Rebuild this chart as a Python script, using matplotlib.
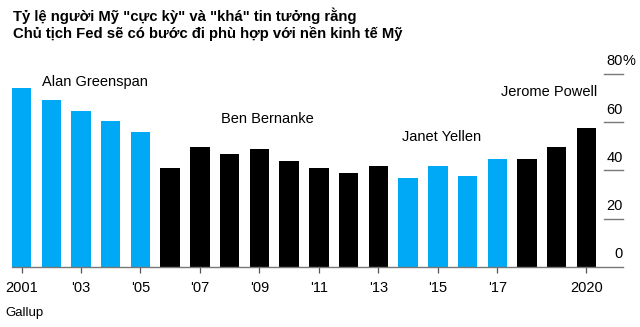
import matplotlib
matplotlib.use("Agg")
from matplotlib import pyplot as plt

plt.rcParams['font.family'] = ['Liberation Sans', 'DejaVu Sans']

# Data
years = list(range(2001, 2021))
values = [74.0, 69.0, 64.7, 60.6, 55.8, 40.8, 49.8, 46.9, 49.0, 44.0,
          40.8, 39.0, 41.9, 36.9, 41.9, 37.8, 44.8, 44.8, 49.8, 57.7]
chairs = ['Greenspan'] * 5 + ['Bernanke'] * 8 + ['Yellen'] * 4 + ['Powell'] * 3
tick_years = [2001, 2003, 2005, 2007, 2009, 2011, 2013, 2015, 2017, 2020]
tick_labels = ['2001', "'03", "'05", "'07", "'09", "'11", "'13", "'15", "'17", '2020']
y_ticks = [0, 20, 40, 60, 80]

BLUE = '#00a9f5'
chair_colors = {'Greenspan': BLUE, 'Bernanke': 'black', 'Yellen': BLUE, 'Powell': 'black'}

fig = plt.figure(figsize=(6.4, 3.27), dpi=100)
ax = fig.add_axes([0.0183, 0.1844, 0.973 - 0.0183, 0.8477 - 0.1844])

x = [y - 2001 for y in years]
ax.bar(x, values, width=0.655, color=[chair_colors[c] for c in chairs])

ax.set_xlim(-0.33, 20.22)
ax.set_ylim(0, 90)

for s in ['top', 'right', 'left']:
    ax.spines[s].set_visible(False)
ax.spines['bottom'].set_color('#777777')
ax.spines['bottom'].set_linewidth(1.0)

ax.set_xticks([t - 2001 for t in tick_years])
ax.set_xticklabels(tick_labels, fontsize=10.5)
ax.tick_params(axis='x', length=4, width=0.9, color='#555555', pad=6)
ax.set_yticks([])

# right-side value labels with short rules
ytr = ax.get_yaxis_transform()
for v in y_ticks:
    if v > 0:
        ax.plot([0.9695, 1.0], [v, v], color='#777777', lw=1.0, transform=ytr, clip_on=False)
    ax.annotate(str(v), xy=(1.0, v), xycoords=ytr, xytext=(0, 9),
                textcoords='offset points', ha='right', va='center', fontsize=10.5)
ax.annotate('%', xy=(1.0, 80), xycoords=ytr, xytext=(0, 9),
            textcoords='offset points', ha='left', va='center', fontsize=10.5)

# chair labels
ax.text(0.69, 76.8, 'Alan Greenspan', fontsize=10.5, va='center', ha='left')
ax.text(6.71, 61.2, 'Ben Bernanke', fontsize=10.5, va='center', ha='left')
ax.text(12.79, 53.9, 'Janet Yellen', fontsize=10.5, va='center', ha='left')
ax.text(16.12, 72.4, 'Jerome Powell', fontsize=10.5, va='center', ha='left')

fig.text(0.02, 1 - 20.7 / 327, 'Tỷ lệ người Mỹ "cực kỳ" và "khá" tin tưởng rằng',
         fontsize=10.75, fontweight='bold', va='baseline', ha='left')
fig.text(0.02, 1 - 37.7 / 327, 'Chủ tịch Fed sẽ có bước đi phù hợp với nền kinh tế Mỹ',
         fontsize=10.75, fontweight='bold', va='baseline', ha='left')
fig.text(0.008, 1 - 313.3 / 327, 'Gallup', fontsize=9.5, va='center', ha='left')

fig.savefig('out.png', dpi=100)
